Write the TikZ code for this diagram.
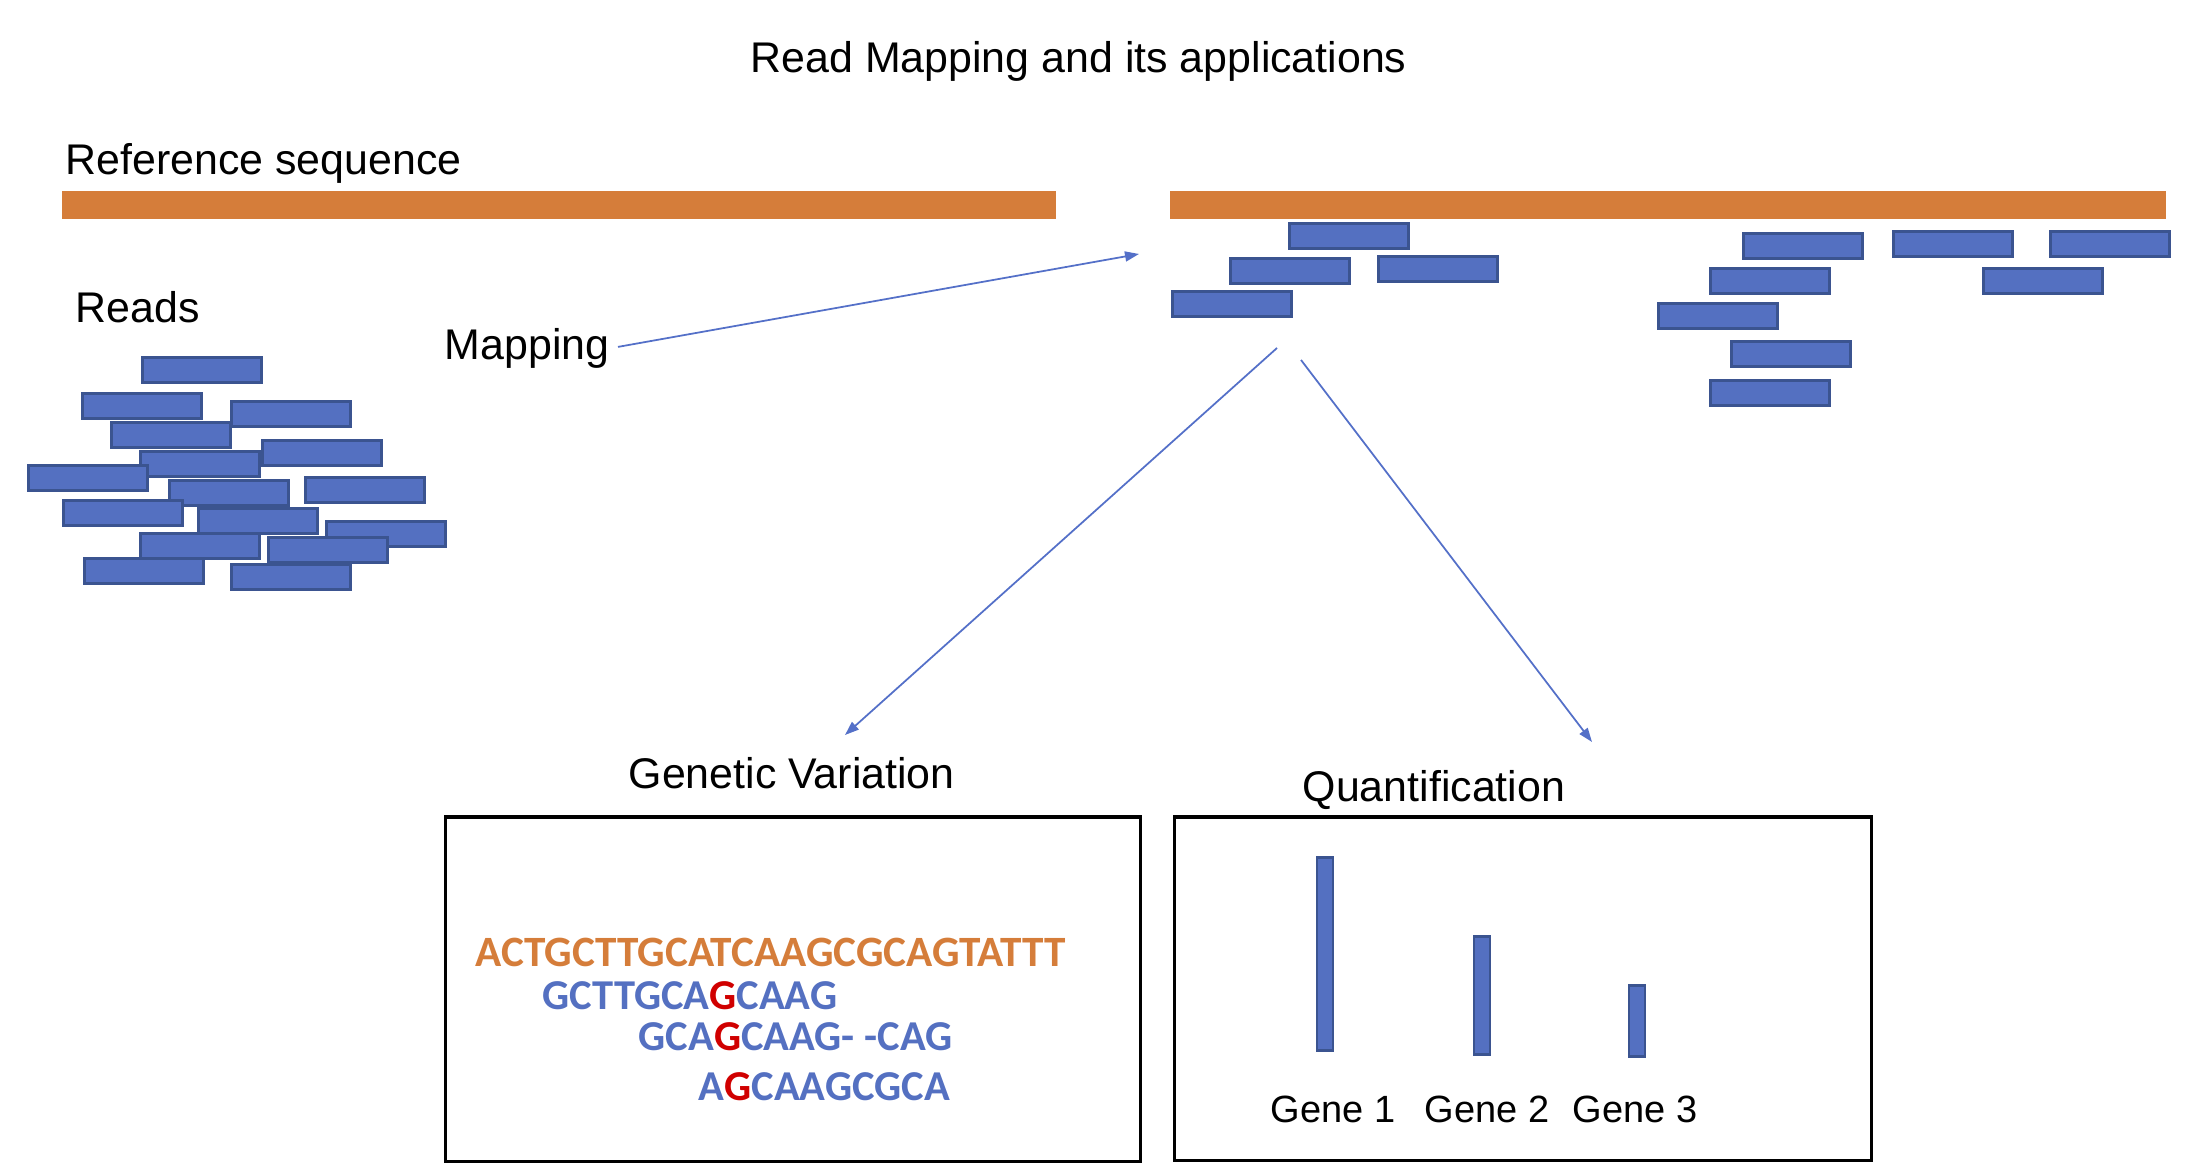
\documentclass[tikz,border=0pt]{standalone}
\usepackage{fontspec}
\setmainfont{Liberation Sans}
\newfontfamily\seqfont{Carlito}
\usetikzlibrary{arrows.meta}
\definecolor{RefOrange}{HTML}{D57D3A}
\definecolor{ReadBlue}{HTML}{5470C1}
\definecolor{ReadEdge}{HTML}{3B5490}
\definecolor{SnpRed}{HTML}{D00000}
\definecolor{LinkBlue}{HTML}{5470C8}

\begin{document}
\begin{tikzpicture}[x=0.01cm, y=-0.01cm,
    lbl/.style={anchor=base west, inner sep=0pt, font=\fontsize{12.2}{14}\selectfont},
    genelbl/.style={anchor=base west, inner sep=0pt, font=\fontsize{10.8}{12}\selectfont},
    seq/.style={anchor=base west, inner sep=0pt, font=\seqfont\bfseries\fontsize{12.1}{14}\selectfont},
    read/.style={draw=ReadEdge, fill=ReadBlue, line width=0.8pt, minimum width=1.19cm, minimum height=0.245cm, inner sep=0pt},
    refbar/.style={fill=RefOrange, draw=none, minimum height=0.28cm, inner sep=0pt},
    genebar/.style={draw=ReadEdge, fill=ReadBlue, line width=0.8pt, minimum width=0.16cm, inner sep=0pt, anchor=south},
    panel/.style={draw, line width=1pt, anchor=north west, inner sep=0pt},
    link/.style={LinkBlue, line width=0.5pt, -{Triangle[length=0.14cm,width=0.1cm]}}]
    \useasboundingbox (0,0) rectangle (2188,1174);

    % Titles
    \node[lbl] (title) at (750,73) {Read Mapping and its applications};
    \node[lbl] (refLabel) at (65,175) {Reference sequence};
    \node[lbl] (readsLabel) at (75,323) {Reads};
    \node[lbl] (mapLabel) at (444,360) {Mapping};

    % Reference sequence
    \node[refbar, minimum width=9.94cm] (refLeft) at (559,205) {};
    \node[refbar, minimum width=9.96cm] (refRight) at (1668,205) {};

    % Unmapped reads
    \foreach \x/\y [count=\i] in {202/370, 142/406, 291/414, 171/435, 322/453, 200/464,
        88/478, 365/490, 229/493, 123/513, 258/521, 386/534, 200/546, 328/550, 144/571, 291/577}
        \node[read] (readL\i) at (\x,\y) {};

    % Mapped reads
    \foreach \x/\y [count=\i] in {1349/236, 1290/271, 1438/269, 1232/304,
        1803/246, 1953/244, 2110/244, 1770/281, 2043/281, 1718/316, 1791/354, 1770/393}
        \node[read] (readM\i) at (\x,\y) {};

    % Arrows
    \coordinate (mapEnd) at (1139,254);
    \coordinate (splitA) at (1277,348);
    \coordinate (splitB) at (1301,360);
    \coordinate (gvTip) at (845,735);
    \coordinate (quantTip) at (1592,742);
    \draw[link] ([xshift=0.08cm,yshift=0.02cm]mapLabel.east) -- (mapEnd);
    \draw[link] (splitA) -- (gvTip);
    \draw[link] (splitB) -- (quantTip);

    % Genetic variation
    \node[lbl] (gvLabel) at (628,789) {Genetic Variation};
    \node[panel, minimum width=6.95cm, minimum height=3.44cm] (gvBox) at (443.5,815.5) {};
    \node[seq, text=RefOrange, font=\seqfont\bfseries\fontsize{12.3}{14}\selectfont] (refSeq) at (475,967) {ACTGCTTGCATCAAGCGCAGTATTT};
    \node[seq, text=ReadBlue] (seqA) at (542,1010) {GCTTGCA\textcolor{SnpRed}{G}CAAG};
    \node[seq, text=ReadBlue] (seqB) at (638,1051) {GCA\textcolor{SnpRed}{G}CAAG- -CAG};
    \node[seq, text=ReadBlue] (seqC) at (698,1101) {A\textcolor{SnpRed}{G}CAAGCGCA};

    % Quantification
    \node[lbl] (quantLabel) at (1302,802) {Quantification};
    \node[panel, minimum width=6.97cm, minimum height=3.43cm] (quantBox) at (1172.5,815.5) {};
    \node[genebar, minimum height=1.93cm] (bar1) at (1325,1052) {};
    \node[genebar, minimum height=1.18cm] (bar2) at (1482,1056) {};
    \node[genebar, minimum height=0.71cm] (bar3) at (1637,1058) {};
    \node[genelbl] (gene1) at (1270,1123) {Gene 1};
    \node[genelbl] (gene2) at (1424,1123) {Gene 2};
    \node[genelbl] (gene3) at (1572,1123) {Gene 3};
\end{tikzpicture}
\end{document}
